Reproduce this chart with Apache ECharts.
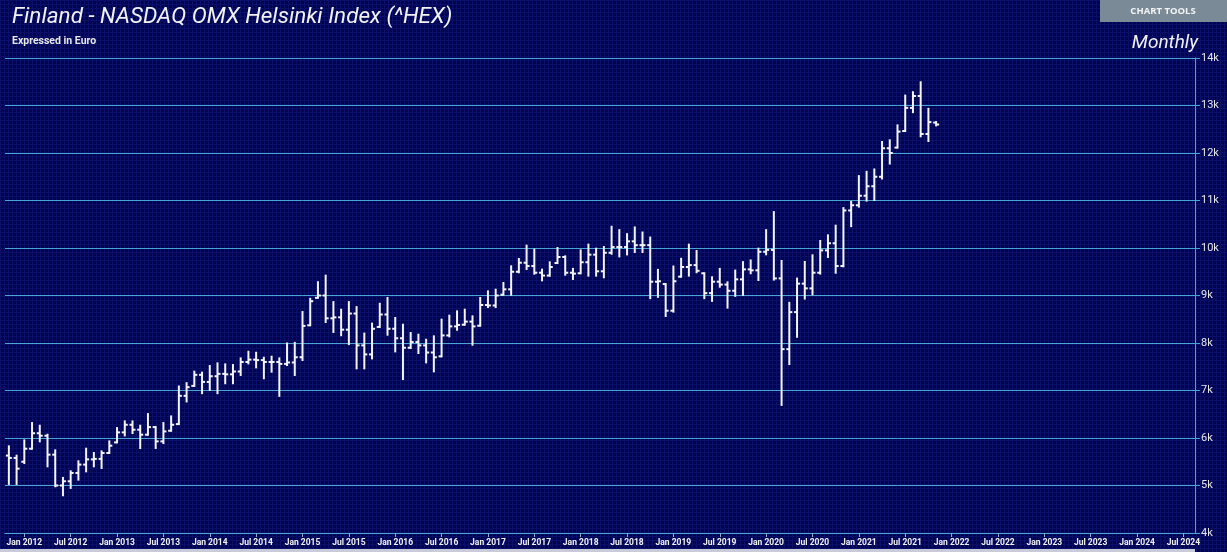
<!DOCTYPE html>
<html lang="en">
<head>
  <meta charset="UTF-8">
  <title>Finland - NASDAQ OMX Helsinki Index</title>
  <style>
    html, body { margin: 0; padding: 0; background: #02054f; }
    #chart { width: 1227px; height: 552px; }
  </style>
</head>
<body>
<div id="chart"></div>
<script src="https://cdn.jsdelivr.net/npm/echarts@6/dist/echarts.min.js"></script>
<script>
// monthly bars, Nov 2011 .. Nov 2021
const opens = [5630, 5580, 5500, 5775, 6100, 6048, 5649, 5000, 5089, 5264, 5440, 5550, 5560, 5684, 5908, 6118, 6279, 6174, 6070, 6230,
  5929, 6153, 6293, 6888, 7097, 7330, 7180, 7300, 7350, 7340, 7400, 7600, 7650, 7640, 7600, 7600, 7560, 7590, 7700, 8373,
  8951, 9000, 8520, 8540, 8280, 8620, 7950, 7760, 8338, 8600, 8300, 8100, 7900, 8020, 7950, 7800, 7719, 8160, 8350, 8385,
  8450, 8364, 8800, 8790, 9017, 9130, 9500, 9690, 9620, 9480, 9420, 9684, 9810, 9480, 9468, 9700, 9860, 9510, 9900, 10020,
  10020, 10140, 10060, 10060, 9290, 9241, 8680, 9397, 9600, 9640, 9468, 9050, 9290, 9230, 9100, 9340, 9550, 9530, 9920, 9960,
  9360, 7870, 8650, 9250, 9150, 9480, 9950, 10100, 9620, 10790, 10900, 11100, 11300, 11500, 12100, 12114, 12463, 12950, 13200, 12400,
  12640];
const highs = [5824, 5628, 5950, 6314, 6258, 6069, 5740, 5159, 5299, 5509, 5775, 5684, 5719, 5929, 6209, 6349, 6349, 6258, 6503, 6230,
  6314, 6454, 7084, 7154, 7397, 7376, 7515, 7571, 7550, 7536, 7676, 7815, 7794, 7690, 7711, 7676, 7990, 8003, 8652, 8930,
  9279, 9418, 8861, 8700, 8861, 8756, 8198, 8408, 8826, 8947, 8526, 8385, 8210, 8175, 8069, 8140, 8491, 8575, 8666, 8701,
  8561, 8947, 9087, 9122, 9263, 9614, 9768, 10049, 9965, 9544, 9698, 10000, 9824, 9560, 9950, 10071, 9986, 10021, 10447, 10376,
  10291, 10433, 10326, 10220, 9539, 9241, 9610, 9773, 10071, 9936, 9468, 9383, 9560, 9277, 9525, 9702, 9738, 9986, 10376, 10756,
  9727, 8845, 9356, 9706, 9846, 10147, 10266, 10470, 10840, 10970, 11513, 11604, 11653, 12232, 12267, 12581, 13209, 13279, 13489, 12930,
  12651];
const lows = [5033, 5033, 5474, 5775, 5929, 5404, 4984, 4795, 4949, 5124, 5299, 5404, 5369, 5684, 5908, 6055, 6104, 5789, 6069, 5789,
  5894, 6153, 6293, 6769, 7097, 6944, 7013, 6944, 7153, 7153, 7327, 7571, 7488, 7258, 7397, 6888, 7536, 7327, 7641, 8373,
  8951, 8442, 8233, 8164, 7976, 7467, 7467, 7676, 8338, 8175, 7824, 7241, 7894, 7789, 7592, 7403, 7719, 8140, 8280, 8385,
  7964, 8364, 8757, 8757, 9017, 9017, 9488, 9558, 9459, 9319, 9417, 9684, 9438, 9348, 9468, 9419, 9419, 9383, 9879, 9823,
  9865, 9915, 9915, 8944, 8972, 8568, 8660, 9397, 9419, 9490, 8944, 8887, 9185, 8745, 8993, 9014, 9468, 9326, 9867, 9335,
  6696, 7557, 8131, 8936, 9027, 9461, 9811, 9480, 9615, 10460, 10871, 10997, 11011, 11464, 11778, 12114, 12463, 12860, 12351, 12253,
  12581];
const closes = [5580, 5355, 5775, 6100, 6048, 5649, 5000, 5089, 5264, 5440, 5550, 5560, 5684, 5838, 6118, 6279, 6174, 6070, 6230, 5929,
  6139, 6279, 6888, 7070, 7330, 7180, 7300, 7350, 7340, 7400, 7600, 7650, 7640, 7600, 7600, 7560, 7590, 7700, 8360, 8880,
  9000, 8520, 8540, 8280, 8620, 7950, 7760, 8300, 8600, 8300, 8100, 7900, 8020, 7950, 7800, 7700, 8160, 8350, 8380, 8450,
  8350, 8800, 8790, 9000, 9130, 9500, 9690, 9620, 9480, 9420, 9600, 9810, 9480, 9460, 9700, 9860, 9510, 9900, 10020, 10020,
  10140, 10060, 10060, 9290, 9300, 8680, 9300, 9600, 9640, 9520, 9050, 9290, 9230, 9100, 9340, 9550, 9530, 9920, 9960, 9360,
  7870, 8650, 9250, 9150, 9480, 9950, 10100, 9620, 10790, 10900, 11100, 11300, 11500, 12100, 12000, 12450, 12950, 13200, 12400, 12650,
  12600];
const yTicks = [4000, 5000, 6000, 7000, 8000, 9000, 10000, 11000, 12000, 13000, 14000];
const monthNames = ['Jan', 'Feb', 'Mar', 'Apr', 'May', 'Jun', 'Jul', 'Aug', 'Sep', 'Oct', 'Nov', 'Dec'];

// x axis runs Nov 2011 .. Aug 2024
const months = [];
for (let y = 2011, m = 10; y < 2024 || (y === 2024 && m <= 7); m++) {
  if (m === 12) { m = 0; y++; }
  if (y === 2024 && m > 7) break;
  months.push(monthNames[m] + ' ' + y);
}

const bars = opens.map((o, i) => [i, o, closes[i], lows[i], highs[i]]);

// dark navy mesh background
const tile = document.createElement('canvas');
tile.width = 4; tile.height = 4;
const tc = tile.getContext('2d');
tc.fillStyle = '#01044c';
tc.fillRect(0, 0, 4, 4);
tc.fillStyle = '#0a106a';
tc.fillRect(0, 0, 4, 1);
tc.fillRect(0, 0, 1, 4);

const lineCol = '#48a6d6';
const isJanJul = (idx) => /^(Jan|Jul)/.test(months[idx]);

let myChart = echarts.init(document.getElementById('chart'));
myChart.setOption({
  backgroundColor: { image: tile, repeat: 'repeat' },
  animation: false,
  textStyle: { fontFamily: 'Roboto' },
  grid: { left: 5, right: 32, top: 58, bottom: 19 },
  xAxis: {
    type: 'category',
    data: months,
    boundaryGap: true,
    axisLine: { show: true, lineStyle: { color: lineCol, width: 1 } },
    axisTick: { show: true, alignWithLabel: true, interval: isJanJul, length: 4, lineStyle: { color: '#8fa9c8' } },
    axisLabel: {
      interval: isJanJul,
      color: '#f2f2f2',
      fontSize: 8.5,
      fontWeight: 'bold',
      margin: 5
    },
    splitLine: { show: false }
  },
  yAxis: {
    type: 'value',
    position: 'right',
    min: yTicks[0],
    max: yTicks[yTicks.length - 1],
    interval: 1000,
    axisLine: { show: true, lineStyle: { color: lineCol, width: 1 } },
    axisTick: { show: true, length: 5, lineStyle: { color: lineCol } },
    axisLabel: {
      color: '#e6e6e6',
      fontSize: 11,
      margin: 6,
      formatter: (v) => (v / 1000) + 'k'
    },
    splitLine: { show: true, lineStyle: { color: lineCol, width: 1 } }
  },
  series: [{
    type: 'custom',
    data: bars,
    encode: { x: 0, y: [1, 2, 3, 4] },
    renderItem: (params, api) => {
      const i = api.value(0);
      const o = api.coord([i, api.value(1)]);
      const c = api.coord([i, api.value(2)]);
      const l = api.coord([i, api.value(3)]);
      const h = api.coord([i, api.value(4)]);
      const st = { stroke: '#f4f4f4', lineWidth: 2 };
      return {
        type: 'group',
        children: [
          { type: 'line', shape: { x1: h[0], y1: h[1] - 1, x2: l[0], y2: l[1] + 1 }, style: st },
          { type: 'line', shape: { x1: o[0] - 3, y1: o[1], x2: o[0], y2: o[1] }, style: st },
          { type: 'line', shape: { x1: c[0], y1: c[1], x2: c[0] + 3, y2: c[1] }, style: st }
        ]
      };
    }
  }],
  graphic: [
    {
      type: 'text', left: 12, top: 6,
      style: { text: 'Finland - NASDAQ OMX Helsinki Index (^HEX)', fill: '#f2f2f2', fontSize: 22.5, fontStyle: 'italic', fontFamily: 'Roboto' }
    },
    {
      type: 'text', left: 12, top: 36,
      style: { text: 'Expressed in Euro', fill: '#e8e8e8', fontSize: 10.5, fontWeight: 'bold', fontFamily: 'Roboto' }
    },
    {
      type: 'text', right: 29, top: 34,
      style: { text: 'Monthly', fill: '#f2f2f2', fontSize: 19, fontStyle: 'italic', fontFamily: 'Roboto' }
    },
    {
      type: 'rect', shape: { x: 1100, y: 0, width: 127, height: 22 },
      style: { fill: '#7a8a96' }
    },
    {
      type: 'text', x: 1163, y: 11,
      style: { text: 'CHART TOOLS', fill: '#f4f4f4', fontSize: 9.5, fontWeight: 'bold', fontFamily: 'Open Sans', align: 'center', verticalAlign: 'middle' }
    },
    {
      type: 'rect', shape: { x: 0, y: 549, width: 1195, height: 3 },
      style: { fill: '#c9cbd8' }
    }
  ]
});
</script>
</body>
</html>
